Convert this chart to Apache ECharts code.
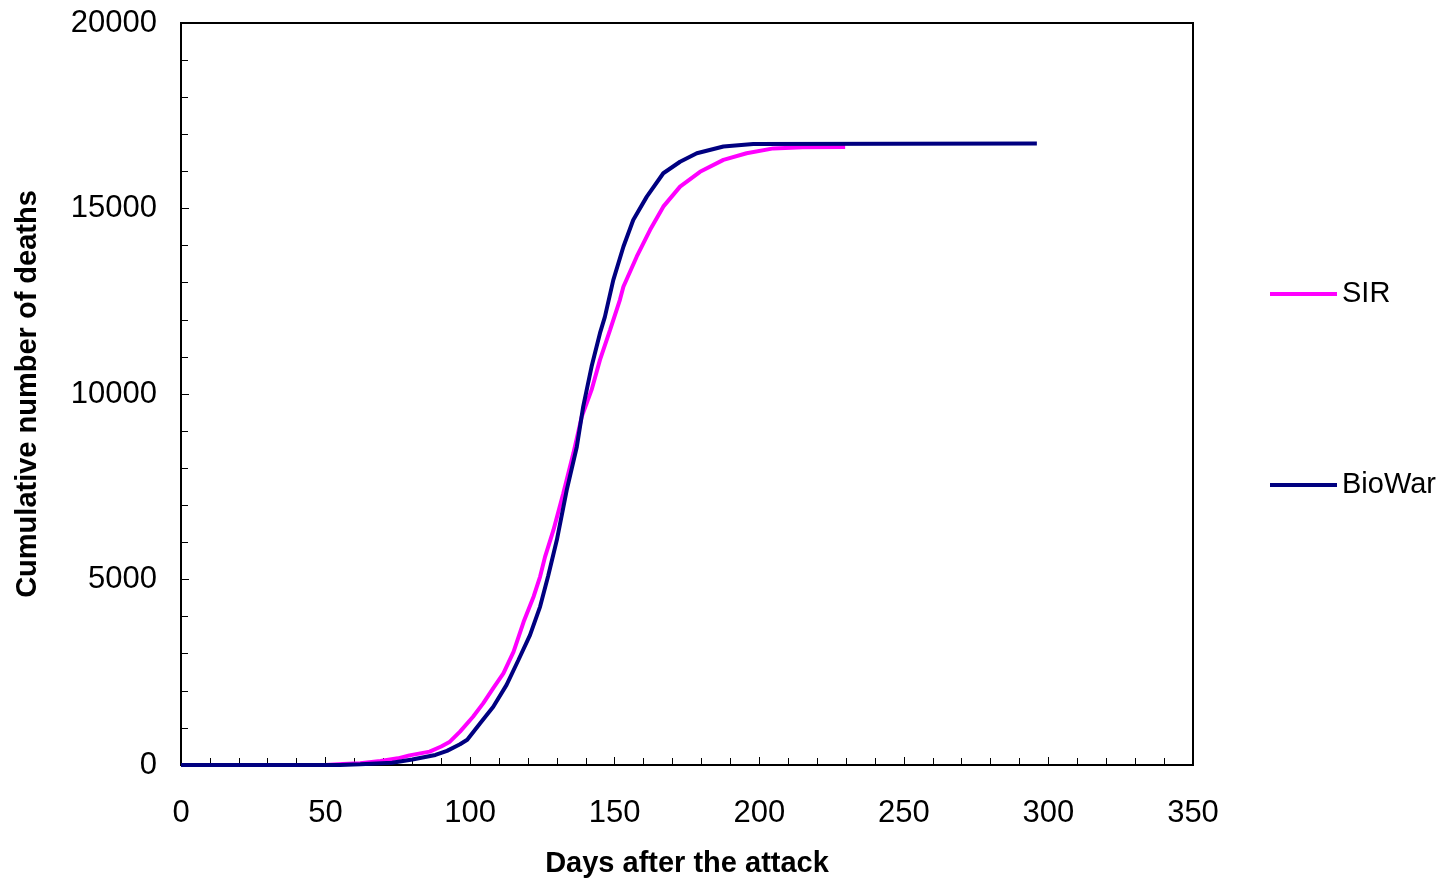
<!DOCTYPE html>
<html>
<head>
<meta charset="utf-8">
<script src="https://cdn.jsdelivr.net/npm/echarts@6/dist/echarts.min.js"></script>
<style>
  html, body { margin: 0; padding: 0; background: #fff; }
  #myChart { width: 1443px; height: 878px; }
</style>
</head>
<body>
<div id="myChart"></div>
<script>
// values: day -> cumulative deaths
var sirDays = [0, 50, 56, 62, 69, 75, 79, 86, 90, 93, 96.5, 101, 104.5, 108, 111.5, 115, 118.5, 122, 124.2, 125.9,
  128.8, 132.2, 135.7, 138.6, 142, 144.9, 148.4, 151.8, 153, 157.6, 162.2, 166.8, 172.6, 179.5, 187.6, 195.6, 204.9, 215, 229.7];
var sirDeaths = [0, 0, 30, 50, 110, 180, 260, 360, 500, 630, 900, 1300, 1660, 2070, 2470, 3050, 3860, 4550, 5080, 5610,
  6330, 7320, 8400, 9390, 10110, 10920, 11730, 12540, 12890, 13700, 14420, 15050, 15590, 15990, 16310, 16490, 16620, 16650, 16660];

var bioDays = [0, 55, 62, 73, 80, 88, 92, 96.5, 99, 103.4, 108, 112.6, 116.7, 120.7, 124.2, 127, 130, 133.4, 136.9, 139.1,
  142, 144.9, 146.6, 149.5, 153, 156.4, 161.1, 166.8, 172.6, 178.4, 187.6, 197.9, 296];
var bioDeaths = [0, 0, 20, 60, 150, 270, 380, 560, 680, 1120, 1570, 2160, 2830, 3500, 4270, 5100, 6070, 7410, 8580, 9660,
  10740, 11640, 12080, 13070, 13970, 14690, 15320, 15950, 16260, 16490, 16670, 16740, 16750];

var xTicks = [0, 50, 100, 150, 200, 250, 300, 350];
var yTicks = [0, 5000, 10000, 15000, 20000];

function pairs(xs, ys) {
  var out = [];
  for (var i = 0; i < xs.length; i++) {
    out.push([xs[i], ys[i]]);
  }
  return out;
}

var font = "Arial, 'Liberation Sans', sans-serif";

function legendAt(name, top) {
  return {
    orient: "vertical",
    left: 1270,
    top: top,
    padding: 0,
    itemWidth: 67,
    itemHeight: 4,
    icon: "rect",
    data: [name],
    textStyle: { fontFamily: font, fontSize: 29, color: "#000", lineHeight: 30 }
  };
}

var option = {
  animation: false,
  backgroundColor: "#fff",
  grid: {
    left: 181,
    right: 250,
    top: 23,
    bottom: 113,
    outerBoundsMode: "none",
    containLabel: false,
    show: true,
    borderColor: "#000",
    borderWidth: 2
  },
  legend: [legendAt("SIR", 279), legendAt("BioWar", 470)],
  xAxis: {
    type: "value",
    min: xTicks[0],
    max: xTicks[xTicks.length - 1],
    interval: 50,
    name: "Days after the attack",
    nameLocation: "middle",
    nameGap: 84,
    nameTextStyle: { fontFamily: font, fontSize: 29, fontWeight: "bold", color: "#000" },
    axisLine: { lineStyle: { color: "#000", width: 2 } },
    axisTick: { inside: true, length: 8, lineStyle: { color: "#000", width: 1 } },
    minorTick: { show: true, splitNumber: 5, length: 7, lineStyle: { color: "#000", width: 1 } },
    axisLabel: { fontFamily: font, fontSize: 31, color: "#000", margin: 33 },
    splitLine: { show: false }
  },
  yAxis: {
    type: "value",
    min: yTicks[0],
    max: yTicks[yTicks.length - 1],
    interval: 5000,
    name: "Cumulative number of deaths",
    nameLocation: "middle",
    nameGap: 139,
    nameTextStyle: { fontFamily: font, fontSize: 29, fontWeight: "bold", color: "#000" },
    axisLine: { show: true, lineStyle: { color: "#000", width: 2 } },
    axisTick: { show: true, inside: true, length: 8, lineStyle: { color: "#000", width: 1 } },
    minorTick: { show: true, splitNumber: 5, length: 7, lineStyle: { color: "#000", width: 1 } },
    axisLabel: {
      fontFamily: font, fontSize: 31, color: "#000", margin: 24,
      formatter: function(v) { return String(v); }
    },
    splitLine: { show: false }
  },
  series: [
    {
      name: "SIR",
      type: "line",
      data: pairs(sirDays, sirDeaths),
      showSymbol: false,
      color: "#FF00FF",
      lineStyle: { color: "#FF00FF", width: 4 },
      z: 2
    },
    {
      name: "BioWar",
      type: "line",
      data: pairs(bioDays, bioDeaths),
      showSymbol: false,
      color: "#000080",
      lineStyle: { color: "#000080", width: 4 },
      z: 3
    }
  ]
};

var myChart = echarts.init(document.getElementById("myChart"));
myChart.setOption(option);
</script>
</body>
</html>
